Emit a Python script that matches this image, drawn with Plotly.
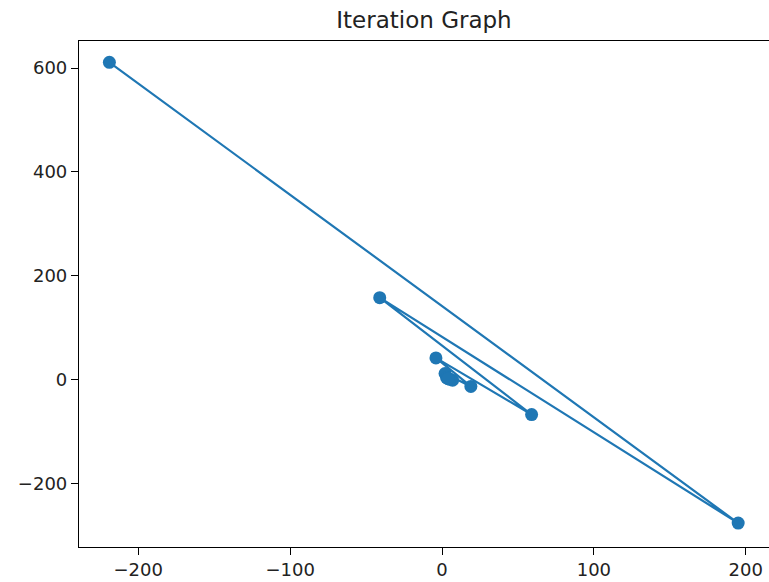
import plotly.graph_objects as go

x_vals = [-219, 195, -41, 59, -4, 19, 2, 7, 3, 5, 4, 4]
y_vals = [611, -276, 158, -67, 42, -13, 12, -1, 4, 1, 3, 2]

x_ticks = [-200, -100, 0, 100, 200]
x_tick_text = ["\u2212200", "\u2212100", "0", "100", "200"]
y_ticks = [-200, 0, 200, 400, 600]
y_tick_text = ["\u2212200", "0", "200", "400", "600"]

fig = go.Figure()
fig.add_trace(go.Scatter(
    x=x_vals, y=y_vals, mode="lines+markers",
    line=dict(color="#1f77b4", width=2.2),
    marker=dict(color="#1f77b4", size=13),
    showlegend=False, hoverinfo="skip",
))

axis_common = dict(
    showgrid=False, zeroline=False, showline=True, linecolor="black",
    linewidth=1.2, ticks="outside", ticklen=7, tickcolor="black",
    tickwidth=1.2, automargin=False, ticklabeloverflow="allow",
    tickfont=dict(family="DejaVu Sans", size=18, color="#222222"),
)

fig.update_layout(
    width=769, height=582,
    margin=dict(l=79, r=0, t=41, b=35),
    paper_bgcolor="white", plot_bgcolor="white",
    title=dict(text="Iteration Graph", x=0.5, xanchor="center",
               xref="paper", y=0.9656, yanchor="middle",
               font=dict(family="DejaVu Sans", size=23, color="#222222")),
    xaxis=dict(range=[-239, 215.3], tickvals=x_ticks, ticktext=x_tick_text,
               mirror=True, ticklabelstandoff=-1, **axis_common),
    yaxis=dict(range=[-322, 652], tickvals=y_ticks, ticktext=y_tick_text,
               mirror=False, **axis_common),
)

fig.write_html(
    "out.html",
    config={"displayModeBar": False},
    post_script="document.body.style.margin='0';document.body.style.overflow='hidden';",
)
